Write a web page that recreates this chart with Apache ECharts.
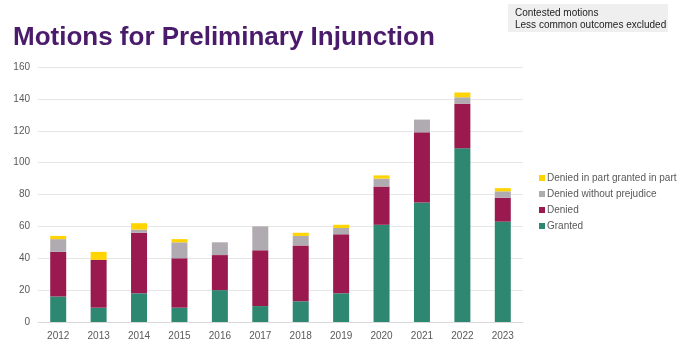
<!DOCTYPE html>
<html>
<head>
<meta charset="utf-8">
<script src="https://cdn.jsdelivr.net/npm/echarts@6/dist/echarts.min.js"></script>
<style>
html,body{margin:0;padding:0;background:#fff;}
#chart{width:693px;height:357px;}
</style>
</head>
<body>
<div id="chart"></div>
<script>
const years = ['2012','2013','2014','2015','2016','2017','2018','2019','2020','2021','2022','2023'];
const granted = [16, 9, 18, 9, 20, 10, 13, 18, 61, 75, 109, 63];
const denied = [28, 30, 38, 31, 22, 35, 35, 37, 24, 44, 28, 15];
const deniedWithoutPrejudice = [8, 0, 2, 10, 8, 15, 6, 4, 5, 8, 4, 4];
const deniedInPart = [2, 5, 4, 2, 0, 0, 2, 2, 2, 0, 3, 2];
const seriesNames = ['Granted', 'Denied', 'Denied without prejudice', 'Denied in part granted in part'];
const seriesColors = ['#2e8770', '#9a1a4f', '#b0abb0', '#ffd400'];
const yTicks = [0, 20, 40, 60, 80, 100, 120, 140, 160];

const chart = echarts.init(document.getElementById('chart'), null, {renderer: 'canvas'});
const dataSets = [granted, denied, deniedWithoutPrejudice, deniedInPart];
const series = dataSets.map((d, i) => ({
  name: seriesNames[i],
  type: 'bar',
  stack: 'total',
  barWidth: 16,
  data: d,
  itemStyle: {color: seriesColors[i]},
  emphasis: {disabled: true}
}));

const fam = '"Liberation Sans", Arial, sans-serif';
chart.setOption({
  animation: false,
  graphic: [
    {type: 'text', left: 13, top: 25, style: {text: 'Motions for Preliminary Injunction', font: 'bold 26px ' + fam, fill: '#4a1a6b'}},
    {type: 'rect', shape: {x: 508, y: 4, width: 160, height: 28}, style: {fill: '#efefef'}},
    {type: 'text', left: 515, top: 7, style: {text: 'Contested motions\nLess common outcomes excluded', font: '10px ' + fam, fill: '#222', lineHeight: 12}}
  ],
  grid: {left: 38, right: 170, top: 67, bottom: 35, containLabel: false},
  legend: {
    orient: 'vertical',
    left: 534,
    top: 168,
    itemWidth: 6,
    itemHeight: 6,
    itemGap: 6,
    icon: 'rect',
    data: seriesNames.slice().reverse(),
    textStyle: {color: '#595959', fontSize: 10, fontFamily: fam, padding: [0, 0, 0, -3]}
  },
  xAxis: {
    type: 'category',
    data: years,
    axisLine: {lineStyle: {color: '#d9d9d9'}},
    axisTick: {show: false},
    axisLabel: {color: '#595959', fontSize: 10, fontFamily: fam, margin: 9}
  },
  yAxis: {
    type: 'value',
    min: yTicks[0],
    max: yTicks[yTicks.length - 1],
    interval: 20,
    axisLine: {show: false},
    axisTick: {show: false},
    splitLine: {lineStyle: {color: '#e6e6e6'}},
    axisLabel: {color: '#595959', fontSize: 10, fontFamily: fam, margin: 8}
  },
  series: series
});
</script>
</body>
</html>
